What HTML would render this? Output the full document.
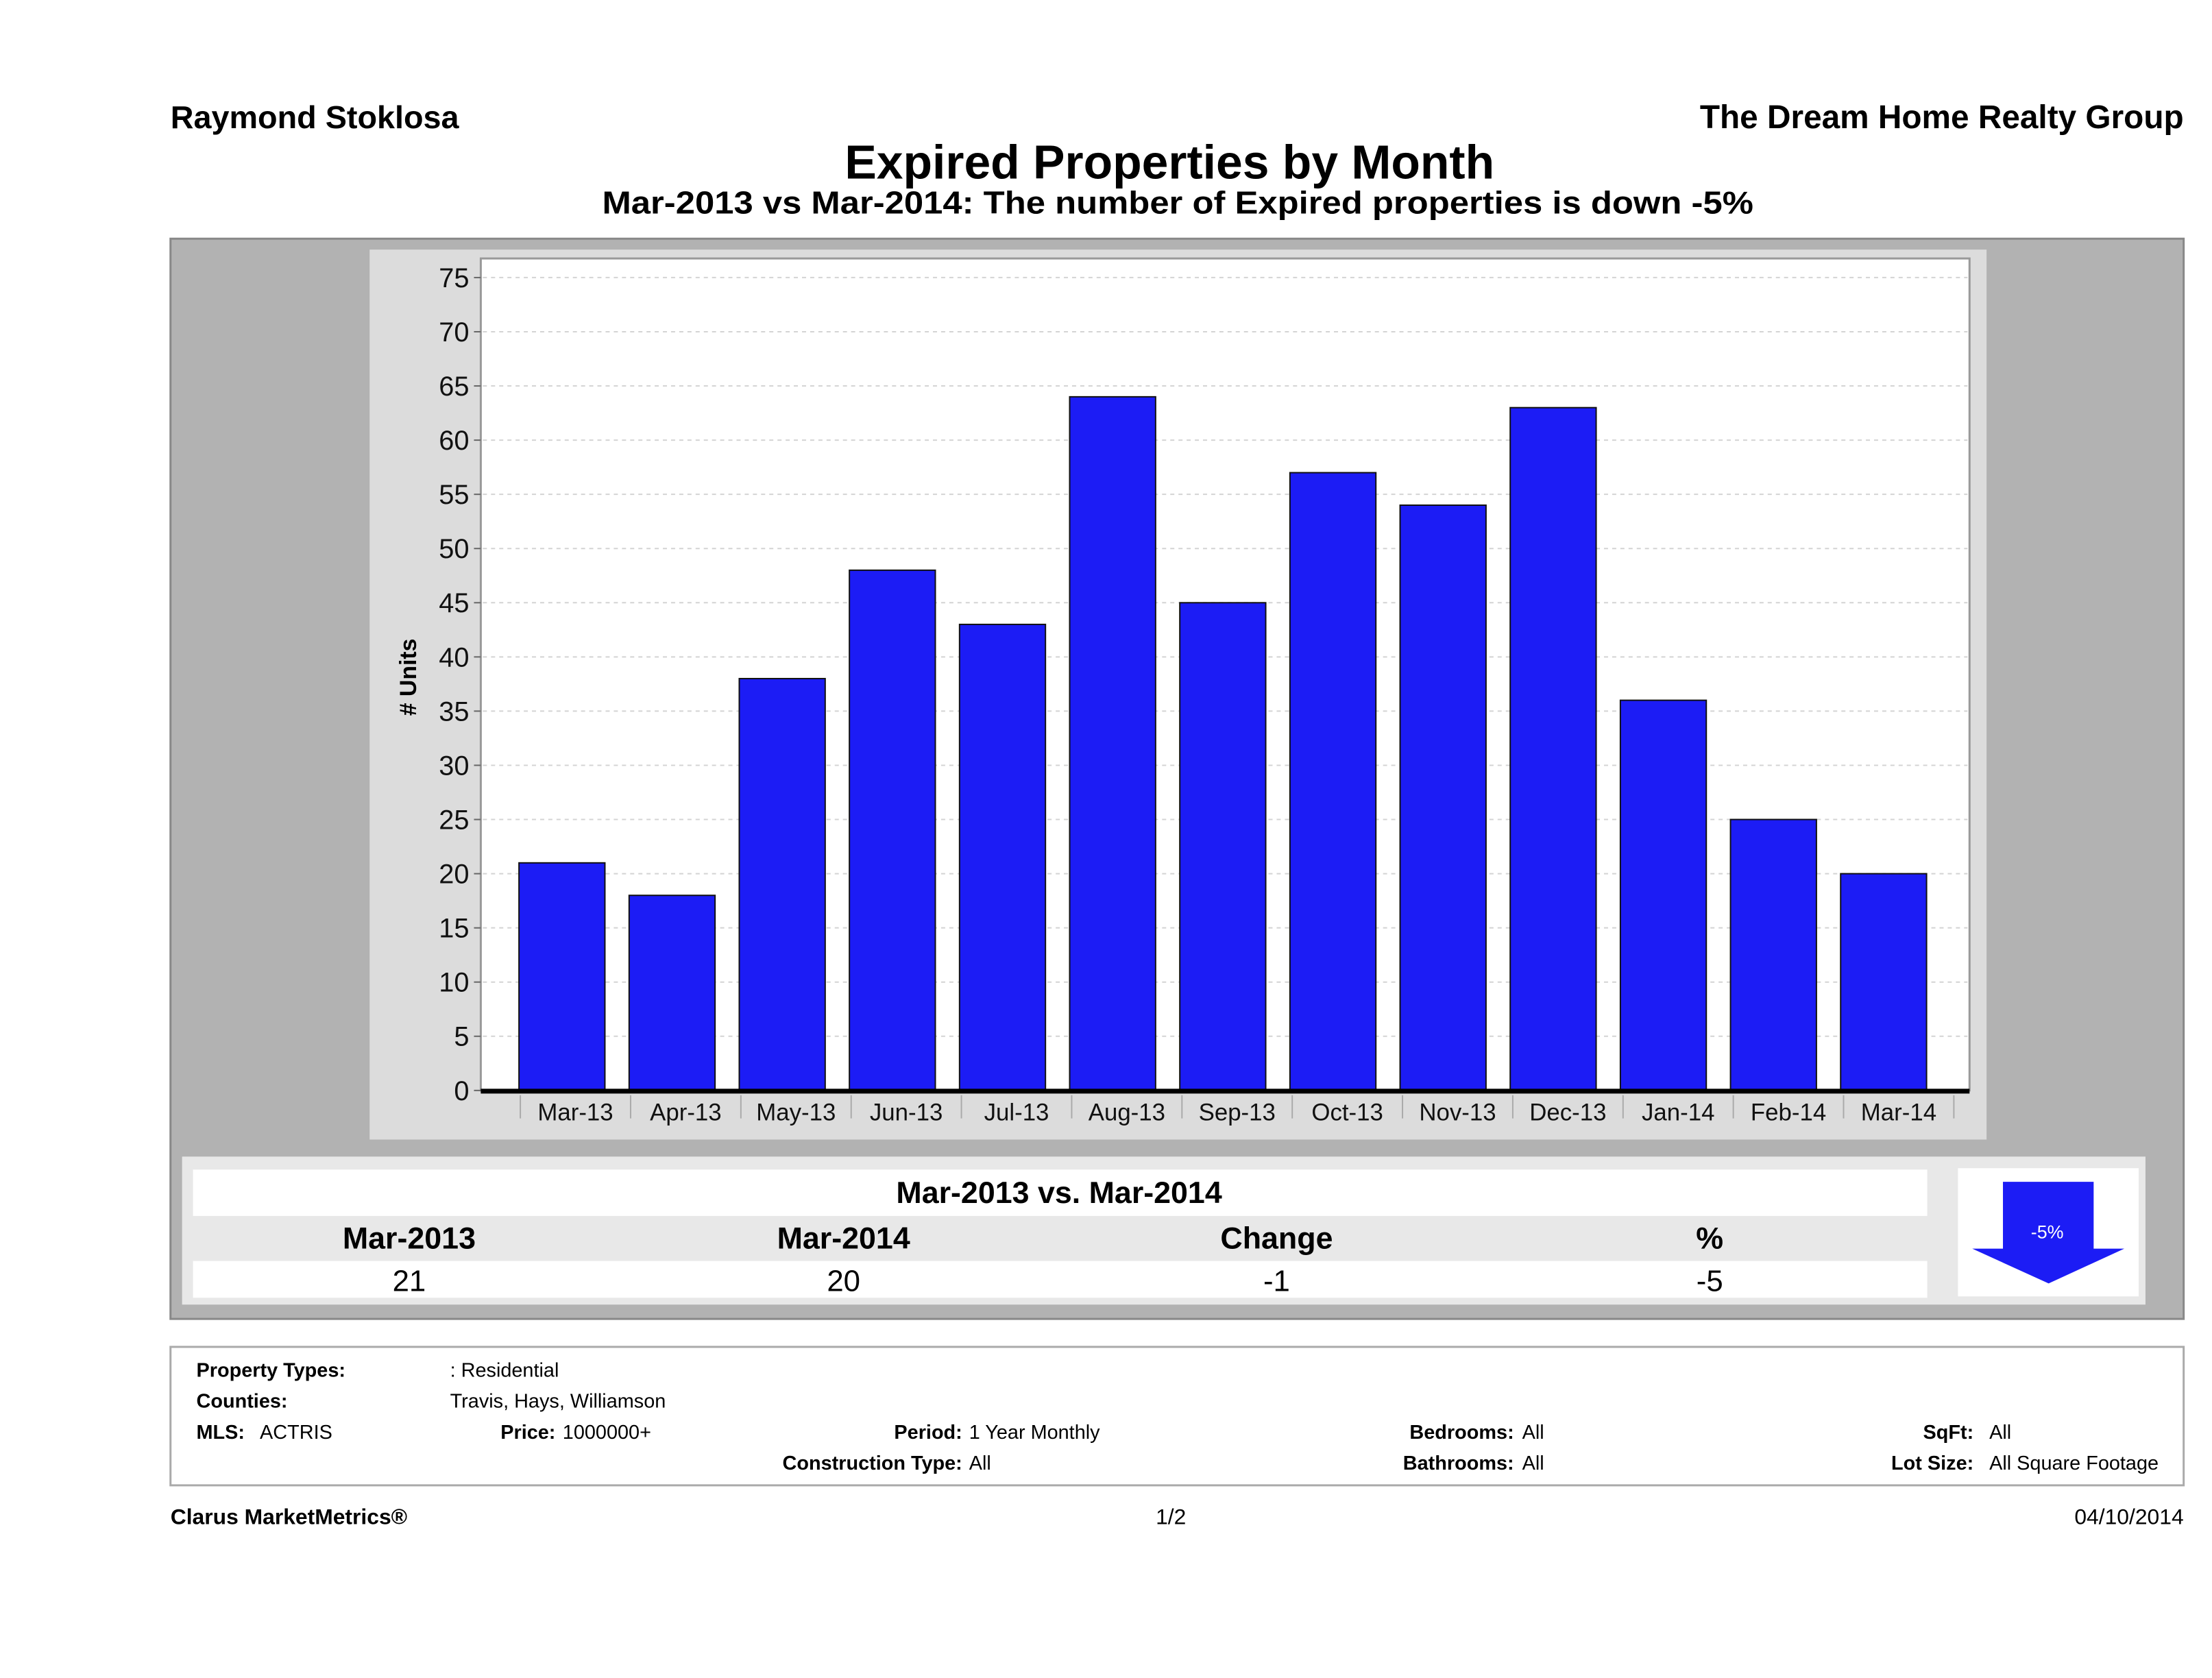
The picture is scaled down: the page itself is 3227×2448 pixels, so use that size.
<!DOCTYPE html>
<html><head><meta charset="utf-8"><style>
html,body{margin:0;padding:0;background:#fff;}
svg{display:block;font-family:"Liberation Sans","DejaVu Sans",sans-serif;}
</style></head><body>
<svg id="chart" width="3227" height="2448" viewBox="0 0 3227 2448" xmlns="http://www.w3.org/2000/svg">
<g transform="scale(0.9949)">
<text x="250" y="188" font-size="47" font-weight="bold">Raymond Stoklosa</text>
<text x="3202" y="188" font-size="48" font-weight="bold" text-anchor="end">The Dream Home Realty Group</text>
<text x="1715" y="262" font-size="70" font-weight="bold" text-anchor="middle">Expired Properties by Month</text>
<text x="1727" y="313" font-size="47" font-weight="bold" text-anchor="middle" textLength="1688" lengthAdjust="spacingAndGlyphs">Mar-2013 vs Mar-2014: The number of Expired  properties is down -5%</text>

<rect x="250" y="350" width="2952" height="1584" fill="#b2b2b2" stroke="#888" stroke-width="3"/>
<rect x="542" y="366" width="2371" height="1305" fill="#dcdcdc"/>
<rect x="705" y="379" width="2183" height="1220" fill="#fff" stroke="#999" stroke-width="3"/>
<g id="grid"></g>
<g id="bars"></g>
<g id="xlabels"></g>
<g id="yticks"></g>
<line x1="705" y1="1600" x2="2888" y2="1600" stroke="#000" stroke-width="7"/>
<text transform="translate(610,993) rotate(-90)" font-size="34" font-weight="bold" text-anchor="middle"># Units</text>

<rect x="267" y="1696" width="2879" height="217" fill="#e8e8e8"/>
<rect x="283" y="1715" width="2543" height="68" fill="#fff"/>
<text x="1553" y="1764" font-size="45" font-weight="bold" text-anchor="middle">Mar-2013 vs. Mar-2014</text>
<g font-size="45" font-weight="bold" text-anchor="middle">
<text x="600" y="1831">Mar-2013</text>
<text x="1237" y="1831">Mar-2014</text>
<text x="1872" y="1831">Change</text>
<text x="2507" y="1831">%</text>
</g>
<rect x="283" y="1849" width="2543" height="54" fill="#fff"/>
<g font-size="44" text-anchor="middle">
<text x="600" y="1893">21</text>
<text x="1237" y="1893">20</text>
<text x="1872" y="1893">-1</text>
<text x="2507" y="1893">-5</text>
</g>
<rect x="2871" y="1713" width="265" height="188" fill="#fff"/>
<polygon points="2937,1733 3070,1733 3070,1831 3115,1831 3004,1882 2892,1831 2937,1831" fill="#1c1cf5"/>
<text x="3002" y="1816" font-size="27" fill="#fff" text-anchor="middle">-5%</text>

<rect x="250" y="1975" width="2952" height="203" fill="#fff" stroke="#aaa" stroke-width="3"/>
<g font-size="29">
<text x="288" y="2019" font-weight="bold">Property Types:</text>
<text x="660" y="2019">: Residential</text>
<text x="288" y="2064" font-weight="bold">Counties:</text>
<text x="660" y="2064">Travis, Hays, Williamson</text>
<text x="288" y="2110" font-weight="bold">MLS:</text>
<text x="381" y="2110">ACTRIS</text>
<text x="734" y="2110" font-weight="bold">Price:</text>
<text x="825" y="2110">1000000+</text>
<text x="1411" y="2110" font-weight="bold" text-anchor="end">Period:</text>
<text x="1421" y="2110">1 Year Monthly</text>
<text x="2220" y="2110" font-weight="bold" text-anchor="end">Bedrooms:</text>
<text x="2232" y="2110">All</text>
<text x="2894" y="2110" font-weight="bold" text-anchor="end">SqFt:</text>
<text x="2917" y="2110">All</text>
<text x="1411" y="2155" font-weight="bold" text-anchor="end">Construction Type:</text>
<text x="1421" y="2155">All</text>
<text x="2220" y="2155" font-weight="bold" text-anchor="end">Bathrooms:</text>
<text x="2232" y="2155">All</text>
<text x="2894" y="2155" font-weight="bold" text-anchor="end">Lot Size:</text>
<text x="2917" y="2155">All Square Footage</text>
</g>
<text x="250" y="2235" font-size="32" font-weight="bold">Clarus MarketMetrics®</text>
<text x="1717" y="2235" font-size="32" text-anchor="middle">1/2</text>
<text x="3202" y="2235" font-size="32" text-anchor="end">04/10/2014</text>
</g>
</svg>
<script>
const categories = ["Mar-13","Apr-13","May-13","Jun-13","Jul-13","Aug-13","Sep-13","Oct-13","Nov-13","Dec-13","Jan-14","Feb-14","Mar-14"];
const values = [21,18,38,48,43,64,45,57,54,63,36,25,20];
const yTicks = [0,5,10,15,20,25,30,35,40,45,50,55,60,65,70,75];

const NS = "http://www.w3.org/2000/svg";
const plotX0 = 763, plotX1 = 2865, y0 = 1599, yTop = 407, yMax = 75;
const band = (plotX1 - plotX0) / categories.length;
const barStart = 761, barPitch = 161.5, barW = 126;
function yScale(v){ return y0 - (v / yMax) * (y0 - yTop); }
function xBand(i){ return plotX0 + i * band; }
function xBar(i){ return barStart + i * barPitch; }
function mk(tag, attrs, parent){ const e = document.createElementNS(NS, tag); for (const k in attrs) e.setAttribute(k, attrs[k]); parent.appendChild(e); return e; }

const grid = document.getElementById('grid');
const yg = document.getElementById('yticks');
yTicks.forEach(t => {
  const y = yScale(t);
  if (t > 0) {
    const gl = mk('line', {x1: 708, x2: 2885, y1: y, y2: y, stroke: '#d4d4d4', 'stroke-width': 2, 'stroke-dasharray': '6,6'}, grid);
    
    
  }
  const tk = mk('line', {x1: 695, x2: 705, y1: y, y2: y, stroke: '#666', 'stroke-width': 2}, yg);
  
  
  const tx = mk('text', {x: 688, y: y + 14, 'font-size': 40, 'text-anchor': 'end', fill: '#111'}, yg);
  tx.textContent = t;
  
  
});

const bars = document.getElementById('bars');
const xl = document.getElementById('xlabels');
categories.forEach((c, i) => {
  const top = yScale(values[i]);
  const r = mk('rect', {x: xBar(i), y: top, width: barW, height: y0 - top, fill: '#1c1cf5', stroke: '#111', 'stroke-width': 2}, bars);
  
  
  const sep = mk('line', {x1: xBand(i), x2: xBand(i), y1: 1606, y2: 1640, stroke: '#aaa', 'stroke-width': 2}, xl);
  
  
  const t = mk('text', {x: xBand(i) + band / 2, y: 1643, 'font-size': 35, 'text-anchor': 'middle', fill: '#111'}, xl);
  t.textContent = c;
  
  
});
const last = mk('line', {x1: plotX1, x2: plotX1, y1: 1606, y2: 1640, stroke: '#aaa', 'stroke-width': 2}, xl);


</script>
</body></html>
